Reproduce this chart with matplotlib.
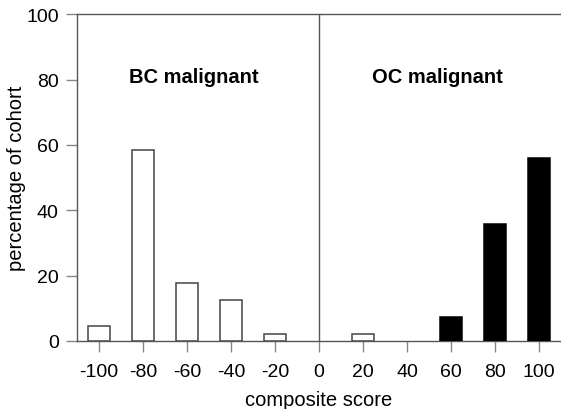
import matplotlib.pyplot as plt
import numpy as np

plt.rcParams['font.family'] = ['Liberation Sans', 'DejaVu Sans']
plt.rcParams['axes.unicode_minus'] = False

# composite score bins and percentage of cohort
bc_scores = np.array([-100, -80, -60, -40, -20, 20])
bc_percent = np.array([4.7, 58.5, 17.6, 12.5, 2.1, 2.1])

oc_scores = np.array([60, 80, 100])
oc_percent = np.array([7.4, 35.8, 56.0])

xticks = [-100, -80, -60, -40, -20, 0, 20, 40, 60, 80, 100]
yticks = [0, 20, 40, 60, 80, 100]

fig = plt.figure(figsize=(5.61, 4.10), dpi=100)
ax = fig.add_axes([0.137, 0.166, 0.863, 0.797])

edge = '#444444'
ax.bar(bc_scores, bc_percent, width=10, color='white', edgecolor=edge, linewidth=1.1, zorder=3)
ax.bar(oc_scores, oc_percent, width=10, color='black', edgecolor='black', linewidth=1.1, zorder=3)

# divider at zero
ax.axvline(0, color='#555555', linewidth=1.0, zorder=2)

ax.text(-57, 81, "BC malignant", ha='center', va='center', fontsize=14.5, fontweight='bold')
ax.text(54, 81, "OC malignant", ha='center', va='center', fontsize=14.5, fontweight='bold')

ax.set_xlim(-110, 110)
ax.set_ylim(0, 100)
ax.set_xticks(xticks)
ax.set_yticks(yticks)
ax.tick_params(axis='both', direction='out', length=8, width=1.0, color='#888888',
               labelsize=14, pad=5)
ax.tick_params(axis='x', pad=8)

for side in ['left', 'bottom', 'top']:
    ax.spines[side].set_color('#555555')
    ax.spines[side].set_linewidth(1.0)
ax.spines['right'].set_visible(False)

ax.set_xlabel("composite score", fontsize=14.5, labelpad=7)
ax.set_ylabel("percentage of cohort", fontsize=14.5, labelpad=0)

fig.savefig("out.png", dpi=100)
